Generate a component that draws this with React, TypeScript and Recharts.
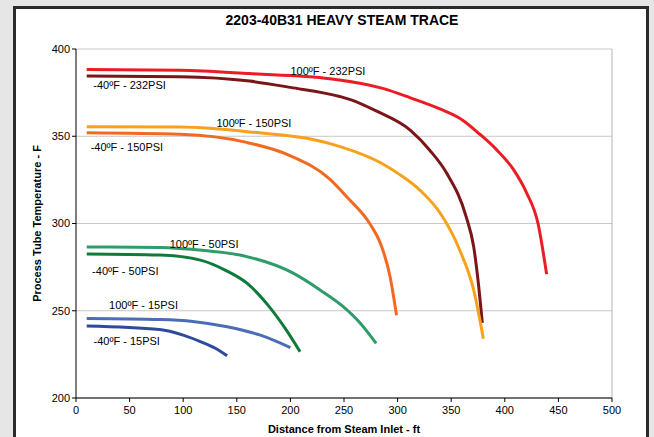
import React from "react";
import {
  LineChart,
  Line,
  XAxis,
  YAxis,
  CartesianGrid,
  ReferenceLine,
  ReferenceDot,
} from "recharts";

// distances (ft) and process tube temperatures (F), one pair per curve
const hot232Dist = [10, 97, 162, 237, 287, 312, 340, 360, 377, 392, 408, 420, 431, 439];
const hot232Temp = [388.3, 387.8, 385.9, 383, 377.3, 372, 365.5, 359.5, 351, 342.5, 331, 318, 300, 271];

const cold232Dist = [10, 97, 162, 200, 246, 256, 280, 312, 330, 346, 364, 371, 375, 379];
const cold232Temp = [384.5, 384.1, 381.6, 378, 372.8, 371, 364.5, 353.4, 342, 328.6, 303.8, 286.6, 267.6, 243];

const hot150Dist = [10, 97, 162, 237, 285, 302, 321, 340, 358, 371, 380];
const hot150Temp = [355.5, 355.3, 352.5, 345.8, 334.5, 328, 319, 305.7, 284.7, 261.8, 234];

const cold150Dist = [10, 97, 159, 199, 237, 253, 274, 284, 293, 299];
const cold150Temp = [352, 351.1, 346.5, 339.1, 325.3, 315, 300, 288.6, 269.5, 247.4];

const hot50Dist = [10, 78, 120, 153, 203, 228, 249, 265, 280];
const hot50Temp = [286.6, 286.3, 284.5, 281.9, 271.4, 261.8, 252.5, 243, 231.3];

const cold50Dist = [10, 78, 116, 140, 160, 180, 195, 209];
const cold50Temp = [282.5, 281.9, 279, 273, 265.5, 252.5, 240, 226.5];

const hot15Dist = [10, 78, 109, 141, 172, 200];
const hot15Temp = [245.6, 245, 243.9, 240.8, 236, 228.9];

const cold15Dist = [10, 78, 100, 116, 130, 141];
const cold15Temp = [241.2, 239.2, 236, 232.3, 228.5, 224.2];

const xTicks = [0, 50, 100, 150, 200, 250, 300, 350, 400, 450, 500];
const yTicks = [200, 250, 300, 350, 400];

const toPoints = (xs: number[], ys: number[]) => xs.map((x, i) => ({ x, y: ys[i] }));

const curves = [
  { name: "100ºF - 232PSI", color: "#ed1c24", data: toPoints(hot232Dist, hot232Temp), lx: 235, ly: 387.6 },
  { name: "-40ºF - 232PSI", color: "#7a1518", data: toPoints(cold232Dist, cold232Temp), lx: 50, ly: 379.2 },
  { name: "100ºF - 150PSI", color: "#f8a11c", data: toPoints(hot150Dist, hot150Temp), lx: 166, ly: 357.8 },
  { name: "-40ºF - 150PSI", color: "#f26a22", data: toPoints(cold150Dist, cold150Temp), lx: 47.5, ly: 343.9 },
  { name: "100ºF - 50PSI", color: "#2f9c6a", data: toPoints(hot50Dist, hot50Temp), lx: 119.5, ly: 288.2 },
  { name: "-40ºF - 50PSI", color: "#0e7b3b", data: toPoints(cold50Dist, cold50Temp), lx: 46, ly: 272.5 },
  { name: "100ºF - 15PSI", color: "#4b6db6", data: toPoints(hot15Dist, hot15Temp), lx: 63, ly: 253.4 },
  { name: "-40ºF - 15PSI", color: "#2d4a9c", data: toPoints(cold15Dist, cold15Temp), lx: 47.3, ly: 232.4 },
];

const font = "'Liberation Sans', Arial, sans-serif";

export default function App() {
  return (
    <div
      style={{
        position: "absolute",
        left: 0,
        top: 0,
        width: 654,
        height: 437,
        background: "#e6e6e7",
        overflow: "hidden",
        fontFamily: font,
      }}
    >
      <div
        style={{
          position: "absolute",
          left: 13,
          top: 6,
          width: 630,
          height: 440,
          background: "#fff",
          border: "3px solid #2b2b2b",
        }}
      />
      <div
        style={{
          position: "absolute",
          left: 0,
          top: 12,
          width: 684,
          textAlign: "center",
          fontWeight: "bold",
          fontSize: 14,
        }}
      >
        2203-40B31 HEAVY STEAM TRACE
      </div>
      <div style={{ position: "absolute", left: 0, top: 0 }}>
        <LineChart width={654} height={437} margin={{ top: 49, right: 42, left: 26, bottom: 9 }}>
          <CartesianGrid vertical={false} stroke="#c8c8c8" />
          <ReferenceLine x={500} stroke="#b4b4b4" />
          <XAxis
            dataKey="x"
            type="number"
            domain={[0, 500]}
            ticks={xTicks}
            allowDuplicatedCategory={false}
            height={30}
            stroke="#000"
            tickSize={4}
            tickMargin={4}
            tick={{ fill: "#000", fontSize: 11, fontFamily: font }}
            label={{
              value: "Distance from Steam Inlet - ft",
              position: "insideBottom",
              offset: -5,
              fill: "#000",
              fontSize: 11,
              fontWeight: "bold",
              fontFamily: font,
            }}
          />
          <YAxis
            type="number"
            domain={[200, 400]}
            ticks={yTicks}
            width={50}
            stroke="#000"
            tickSize={4}
            tick={{ fill: "#000", fontSize: 11, fontFamily: font }}
            label={{
              value: "Process Tube Temperature - F",
              angle: -90,
              position: "insideLeft",
              offset: 11,
              style: { textAnchor: "middle" },
              fill: "#000",
              fontSize: 11,
              fontWeight: "bold",
              fontFamily: font,
            }}
          />
          {curves.map((c) => (
            <Line
              key={c.name}
              data={c.data}
              dataKey="y"
              type="monotone"
              stroke={c.color}
              strokeWidth={3}
              dot={false}
              isAnimationActive={false}
            />
          ))}
          {curves.map((c) => (
            <ReferenceDot
              key={"l" + c.name}
              x={c.lx}
              y={c.ly}
              r={0}
              fill="none"
              stroke="none"
              ifOverflow="visible"
              label={{ value: c.name, position: "center", fill: "#000", fontSize: 11, fontFamily: font }}
            />
          ))}
        </LineChart>
      </div>
    </div>
  );
}
